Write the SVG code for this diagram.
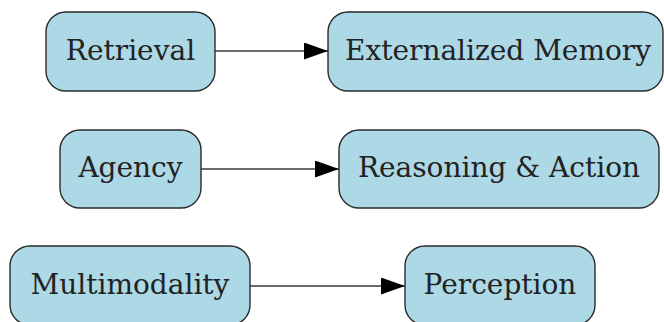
<svg xmlns="http://www.w3.org/2000/svg" width="664" height="322" viewBox="0 0 664 322">
<style>
.n rect{fill:#add8e6;stroke:#2a2a2a;stroke-width:1.4}
.n text{font-family:"DejaVu Serif",serif;font-size:28px;fill:#222;text-anchor:middle}
.e line{stroke:#3a3a3a;stroke-width:1.7}
</style>
<defs>
<marker id="ah" markerWidth="24" markerHeight="17" refX="24" refY="8.5" orient="auto" markerUnits="userSpaceOnUse">
<path d="M0,0 L24,8.5 L0,17 Z" fill="#000"/>
</marker>
</defs>
<rect width="664" height="322" fill="#fff"/>
<g id="edges" class="e">
<line x1="215" y1="51" x2="328" y2="51" marker-end="url(#ah)"/>
<line x1="201" y1="169" x2="339" y2="169" marker-end="url(#ah)"/>
<line x1="250" y1="286" x2="405" y2="286" marker-end="url(#ah)"/>
</g>
<g id="retrieval" class="n"><rect x="46" y="12" width="169" height="79" rx="20"/><text x="130.5" y="60">Retrieval</text></g>
<g id="externalized-memory" class="n"><rect x="328" y="12" width="335" height="79" rx="20"/><text x="498" y="60">Externalized Memory</text></g>
<g id="agency" class="n"><rect x="60" y="130" width="141" height="78" rx="20"/><text x="130.5" y="177">Agency</text></g>
<g id="reasoning-action" class="n"><rect x="339" y="130" width="320" height="78" rx="20"/><text x="499" y="177">Reasoning &amp; Action</text></g>
<g id="multimodality" class="n"><rect x="10" y="246" width="240" height="79" rx="20"/><text x="130" y="294">Multimodality</text></g>
<g id="perception" class="n"><rect x="405" y="246" width="190" height="79" rx="20"/><text x="500" y="294">Perception</text></g>
</svg>
